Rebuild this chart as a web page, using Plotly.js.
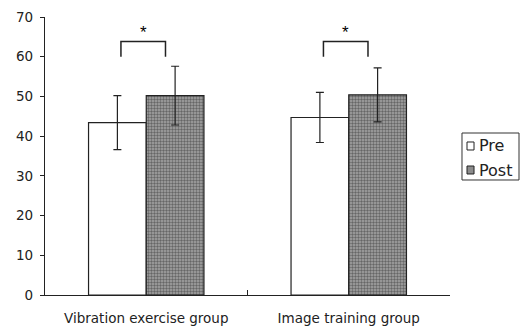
<!DOCTYPE html>
<html><head><meta charset="utf-8">
<script src="https://cdn.plot.ly/plotly-3.0.1.min.js"></script>
<style>html,body{margin:0;padding:0;background:#fff}#c{width:523px;height:327px}</style>
</head><body><div id="c"></div>
<script>
const groups = ["Vibration exercise group", "Image training group"];
const preMeans = [43.4, 44.7];
const preSD = [6.8, 6.3];
const postMeans = [50.2, 50.4];
const postSD = [7.4, 6.8];
const seriesNames = ["Pre", "Post"];

const font = {family: "DejaVu Sans, Liberation Sans, sans-serif", size: 13.5, color: "#222"};
const postFill = "#8c8c8c";

const traces = [
  {type: "bar", name: seriesNames[0], x: groups, y: preMeans, showlegend: false,
   error_y: {type: "data", array: preSD, visible: true, color: "#222", thickness: 1.2, width: 4},
   marker: {color: "#ffffff", line: {color: "#222", width: 1.2}}},
  {type: "bar", name: seriesNames[1], x: groups, y: postMeans, showlegend: false,
   error_y: {type: "data", array: postSD, visible: true, color: "#222", thickness: 1.2, width: 4},
   marker: {color: postFill, line: {color: "#222", width: 1.2},
            pattern: {shape: ".", fgcolor: "#666666", bgcolor: "#a6a6a6", size: 3, solidity: 0.5, fillmode: "replace"}}}
];

const shapes = [];
const annotations = [];
groups.forEach((g, i) => {
  const xl = i - 0.125, xr = i + 0.095;
  shapes.push({type: "path", xref: "x", yref: "y",
    path: `M ${xl} 60 L ${xl} 63.8 L ${xr} 63.8 L ${xr} 60`,
    line: {color: "#222", width: 1.5}});
  annotations.push({x: i - 0.015, y: 66.2, xref: "x", yref: "y", text: "*", showarrow: false,
    yanchor: "middle", font: {family: "Liberation Sans, Arial, sans-serif", size: 17, color: "#000"}});
});

// legend (drawn in paper coordinates, right of the plot)
shapes.push({type: "rect", xref: "paper", yref: "paper", x0: 1.0296, x1: 1.1704, y0: 0.4137, y1: 0.5827,
  line: {color: "#333", width: 1}, fillcolor: "#fff"});
const swatchFills = ["#ffffff", postFill];
const swatchY = [[0.5216, 0.5504], [0.4353, 0.464]];
const textY = [0.536, 0.4496];
seriesNames.forEach((n, k) => {
  shapes.push({type: "rect", xref: "paper", yref: "paper", x0: 1.042, x1: 1.0593,
    y0: swatchY[k][0], y1: swatchY[k][1], line: {color: "#222", width: 1}, fillcolor: swatchFills[k]});
  annotations.push({xref: "paper", yref: "paper", x: 1.066, y: textY[k], xanchor: "left", yanchor: "middle",
    text: n, showarrow: false, font: {family: font.family, size: 16, color: "#222"}});
});

const layout = {
  width: 523, height: 327,
  margin: {l: 45, r: 73, t: 17, b: 32},
  paper_bgcolor: "#fff", plot_bgcolor: "#fff",
  font: font,
  barmode: "group", bargap: 0.43, bargroupgap: 0,
  showlegend: false,
  xaxis: {type: "category", showline: true, linecolor: "#222", linewidth: 1.2,
    ticks: "inside", tickson: "boundaries", ticklen: 5, tickcolor: "#222",
    showgrid: false, zeroline: false, tickfont: font, ticklabelstandoff: 11},
  yaxis: {range: [0, 70], dtick: 10, showline: true, linecolor: "#222", linewidth: 1.2,
    ticks: "outside", ticklen: 4, tickcolor: "#222", showgrid: false, zeroline: false,
    tickfont: font, ticklabelstandoff: 4},
  shapes: shapes, annotations: annotations
};
Plotly.newPlot("c", traces, layout, {displayModeBar: false, staticPlot: true});
</script></body></html>
